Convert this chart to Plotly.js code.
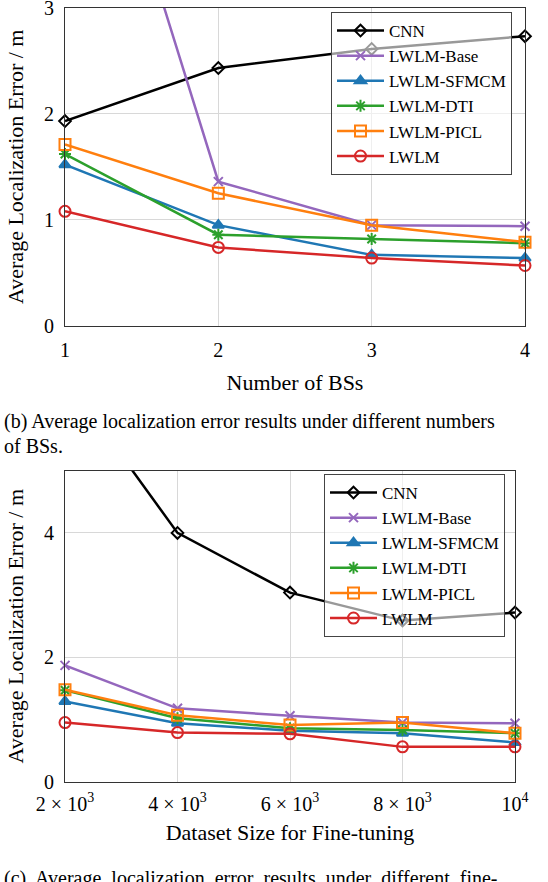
<!DOCTYPE html>
<html>
<head>
<meta charset="utf-8">
<script src="https://cdn.plot.ly/plotly-3.0.1.min.js"></script>
<style>
html, body { margin: 0; padding: 0; background: #fff; }
</style>
</head>
<body>
<div id="chart"></div>
<script>
// ---- Data: (b) number of BSs ----
const bsCount = [1, 2, 3, 4];
const bsCNN    = [1.93, 2.43, 2.61, 2.73];
const bsBase   = [6.0, 1.36, 0.95, 0.94];
const bsSFMCM  = [1.52, 0.95, 0.67, 0.64];
const bsDTI    = [1.62, 0.86, 0.82, 0.78];
const bsPICL   = [1.71, 1.25, 0.95, 0.79];
const bsLWLM   = [1.08, 0.74, 0.64, 0.57];

// ---- Data: (c) dataset size ----
const dsSize  = [2000, 4000, 6000, 8000, 10000];
const dsTickText = ["2 × 10<sup>3</sup>", "4 × 10<sup>3</sup>", "6 × 10<sup>3</sup>", "8 × 10<sup>3</sup>", "10<sup>4</sup>"];
const dsCNN    = [6.5, 4.0, 3.04, 2.59, 2.72];
const dsBase   = [1.87, 1.18, 1.06, 0.95, 0.94];
const dsSFMCM  = [1.29, 0.94, 0.82, 0.78, 0.63];
const dsDTI    = [1.47, 1.02, 0.86, 0.83, 0.78];
const dsPICL   = [1.48, 1.07, 0.91, 0.95, 0.78];
const dsLWLM   = [0.95, 0.79, 0.77, 0.56, 0.56];

const seriesNames = ["CNN", "LWLM-Base", "LWLM-SFMCM", "LWLM-DTI", "LWLM-PICL", "LWLM"];
const colors = ["#000000", "#9467bd", "#1f77b4", "#2ca02c", "#ff7f0e", "#d62728"];
const symbols = ["diamond-open", "x-thin-open", "triangle-up", "asterisk-open", "square-open", "circle-open"];
const sizes = [9, 9, 10, 10, 11, 11];

const FAMILY = "Liberation Serif";

function mk(x, y, i, xa, ya, leg) {
  return {
    x: x, y: y, type: "scatter", mode: "lines+markers",
    name: seriesNames[i], xaxis: xa, yaxis: ya, legend: leg,
    cliponaxis: false,
    line: {color: colors[i], width: 2.5},
    marker: {symbol: symbols[i], size: sizes[i], color: colors[i], line: {color: colors[i], width: 2}}
  };
}

const bsData = [bsCNN, bsBase, bsSFMCM, bsDTI, bsPICL, bsLWLM];
const dsData = [dsCNN, dsBase, dsSFMCM, dsDTI, dsPICL, dsLWLM];
const traces = [];
bsData.forEach((s, i) => traces.push(mk(bsCount, s, i, "x", "y", "legend")));
dsData.forEach((s, i) => traces.push(mk(dsSize, s, i, "x2", "y2", "legend2")));

const W = 548, H = 882;
function f(sz) { return {family: FAMILY, size: sz, color: "#000"}; }
function axBase() {
  return {
    showline: true, mirror: true, linecolor: "#333", linewidth: 1.2,
    showgrid: true, gridcolor: "#d8d8d8", gridwidth: 1,
    zeroline: false, ticks: "", tickfont: f(20), fixedrange: true,
    ticklabeloverflow: "allow"
  };
}
function legBase(x, y) {
  return {
    x: x, y: y,
    bgcolor: "rgba(255,255,255,0.6)", bordercolor: "#444", borderwidth: 1,
    font: f(17), xanchor: "left", yanchor: "top",
    tracegroupgap: 0, itemwidth: 47
  };
}

const annotations = [
  {text: "(b) Average localization error results under different numbers", xref: "paper", yref: "paper",
   x: 2 / W, y: 1 - 421 / H, xanchor: "left", yanchor: "middle", showarrow: false, font: f(20)},
  {text: "of BSs.", xref: "paper", yref: "paper",
   x: 2 / W, y: 1 - 446 / H, xanchor: "left", yanchor: "middle", showarrow: false, font: f(20)},
  {text: "(c)  Average  localization  error  results  under  different  fine-", xref: "paper", yref: "paper",
   x: 2 / W, y: 1 - 878 / H, xanchor: "left", yanchor: "middle", showarrow: false, font: f(20)}
];

const layout = {
  width: W, height: H, margin: {l: 0, r: 0, t: 0, b: 0},
  paper_bgcolor: "#fff", plot_bgcolor: "#fff",
  font: f(18),
  showlegend: true,
  xaxis: Object.assign(axBase(), {
    domain: [65 / W, 525 / W], range: [1, 4], tickvals: bsCount, ticklabelstandoff: 6,
    anchor: "y",
    title: {text: "Number of BSs", font: f(22), standoff: 14}
  }),
  yaxis: Object.assign(axBase(), {
    domain: [1 - 326 / H, 1 - 7.5 / H], range: [0, 3], tickvals: [0, 1, 2, 3], ticklabelstandoff: 6,
    anchor: "x",
    title: {text: "Average Localization Error / m", font: f(22), standoff: 14}
  }),
  xaxis2: Object.assign(axBase(), {
    domain: [65 / W, 515 / W], range: [2000, 10000], tickvals: dsSize, ticktext: dsTickText, ticklabelstandoff: 4,
    anchor: "y2",
    title: {text: "Dataset Size for Fine-tuning", font: f(22), standoff: 10}
  }),
  yaxis2: Object.assign(axBase(), {
    domain: [1 - 781.7 / H, 1 - 470.7 / H], range: [0, 5], tickvals: [0, 2, 4], ticklabelstandoff: 6,
    anchor: "x2",
    title: {text: "Average Localization Error / m", font: f(22), standoff: 14}
  }),
  legend: legBase(331 / W, 1 - 12 / H),
  legend2: legBase(324 / W, 1 - 474 / H),
  annotations: annotations
};

Plotly.newPlot("chart", traces, layout, {displayModeBar: false}).then(function (gd) {
  gd.querySelectorAll("svg text").forEach(function (t) {
    t.setAttribute("font-family", FAMILY);
    t.style.setProperty("font-family", FAMILY, "important");
  });
});
</script>
</body>
</html>
